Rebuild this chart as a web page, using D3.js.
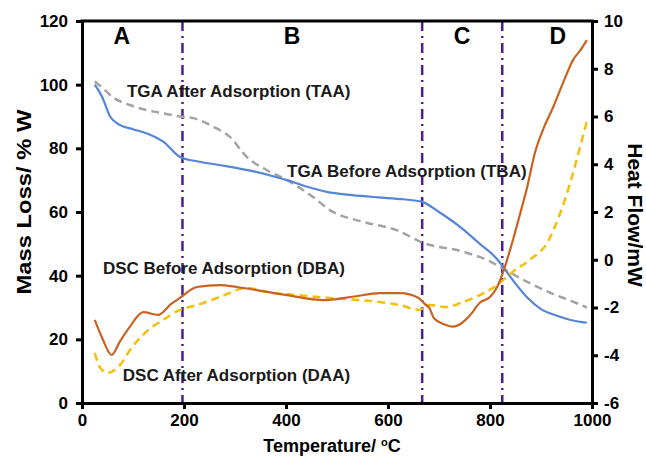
<!DOCTYPE html>
<html>
<head>
<meta charset="utf-8">
<script src="https://cdn.jsdelivr.net/npm/d3@7"></script>
<style>
  body { margin: 0; background: #fff; }
  text { font-family: "Liberation Sans", Arial, sans-serif; font-weight: bold; }
</style>
</head>
<body>
<svg width="646" height="463"></svg>
<script>
// TGA before adsorption (TBA), left axis
const tbaTemp = [25, 40, 55, 75, 100, 130, 160, 192, 230, 280, 330, 380, 402, 440, 480, 530, 580, 630, 667, 700, 740, 780, 815, 830, 850, 875, 900, 930, 960, 990];
const tbaMass = [100, 96, 90, 87.3, 86, 84.5, 82, 77.3, 75.8, 74.5, 73, 71, 70, 68, 66.3, 65.3, 64.6, 64, 63.2, 60, 55.5, 50, 45, 41.8, 37.5, 32.8, 29.5, 27.5, 26, 25.2];

// TGA after adsorption (TAA), left axis
const taaTemp = [25, 40, 61, 94, 127, 160, 192, 218, 257, 290, 323, 362, 402, 453, 486, 551, 617, 669, 748, 800, 830, 870, 920, 960, 990];
const taaMass = [101, 99, 96, 93.6, 92, 91, 90, 89.5, 86.8, 83.6, 77.3, 73.2, 70, 64.7, 60.6, 56.9, 54.3, 50.3, 47.5, 44.5, 41.8, 38.3, 34.5, 32, 30];

// DSC before adsorption (DBA), right axis
const dbaTemp = [25, 40, 58, 75, 94, 120, 149, 175, 192, 225, 270, 304, 343, 402, 473, 530, 584, 624, 660, 672, 682, 690, 710, 727, 745, 760, 780, 800, 814, 826, 845, 860, 873, 888, 905, 924, 945, 963, 978, 990];
const dbaHeat = [-2.52, -3.3, -3.99, -3.4, -2.8, -2.19, -2.31, -1.85, -1.6, -1.14, -1.06, -1.14, -1.27, -1.48, -1.69, -1.55, -1.4, -1.4, -1.6, -1.85, -2.05, -2.45, -2.7, -2.8, -2.65, -2.35, -1.8, -1.56, -1.14, -0.5, 0.83, 2.0, 3.05, 4.47, 5.5, 6.4, 7.5, 8.37, 8.8, 9.2];

// DSC after adsorption (DAA), right axis
const daaTemp = [25, 35, 49, 75, 94, 127, 159, 192, 225, 270, 323, 362, 421, 486, 584, 624, 660, 682, 715, 747, 780, 814, 845, 878, 912, 935, 957, 975, 990];
const daaHeat = [-3.9, -4.5, -4.74, -4.4, -3.78, -3.0, -2.52, -2.1, -1.9, -1.56, -1.18, -1.35, -1.48, -1.6, -1.77, -1.9, -2.1, -1.9, -1.98, -1.77, -1.48, -1.06, -0.5, 0.0, 0.7, 1.8, 3.2, 4.6, 5.8];

// region boundaries and labels
const regionBounds = [197, 667, 824];
const regionNames = ['A', 'B', 'C', 'D'];
const regionLabelTemp = [78, 412, 745, 933];

// curve annotations
const noteText = ['TGA After Adsorption (TAA)', 'TGA Before Adsorption (TBA)', 'DSC Before Adsorption (DBA)', 'DSC After Adsorption (DAA)'];
const noteTemp = [88, 402, 41, 80];
const noteMass = [97.4, 72.3, 41.8, 8.2];

const xTicks = [0, 200, 400, 600, 800, 1000];
const yLeftTicks = [0, 20, 40, 60, 80, 100, 120];
const yRightTicks = [-6, -4, -2, 0, 2, 4, 6, 8, 10];

const svg = d3.select("svg");
const plotLeft = 82, plotRight = 592, plotTop = 21, plotBottom = 403;

const x = d3.scaleLinear().domain([0, 1000]).range([plotLeft, plotRight]);
const yL = d3.scaleLinear().domain([0, 120]).range([plotBottom, plotTop]);
const yR = d3.scaleLinear().domain([-6, 10]).range([plotBottom, plotTop]);

// region lines
svg.selectAll(".region")
    .data(regionBounds)
    .enter()
    .append("line")
    .attr("x1", d => x(d))
    .attr("x2", d => x(d))
    .attr("y1", plotTop)
    .attr("y2", plotBottom)
    .style("stroke", "#4e1a9e")
    .style("stroke-width", 2.5)
    .style("stroke-dasharray", "10,5,2,5");

// series
function drawSeries(temps, vals, yScale, color, dash, width) {
    const pts = temps.map((t, i) => [t, vals[i]]);
    const line = d3.line()
        .x(d => x(d[0]))
        .y(d => yScale(d[1]))
        .curve(d3.curveMonotoneX);
    svg.append("path")
        .attr("d", line(pts))
        .style("fill", "none")
        .style("stroke", color)
        .style("stroke-width", width)
        .style("stroke-dasharray", dash);
}
drawSeries(taaTemp, taaMass, yL, "#a3a3a3", "8,5", 2.5);
drawSeries(tbaTemp, tbaMass, yL, "#5585d8", null, 2.2);
drawSeries(daaTemp, daaHeat, yR, "#f5bf0c", "8,5", 2.5);
drawSeries(dbaTemp, dbaHeat, yR, "#c9631f", null, 2.2);

// axes
const fmt = d => String(d);
const xAxis = svg.append("g")
    .attr("transform", "translate(0," + plotBottom + ")")
    .call(d3.axisBottom(x).tickValues(xTicks).tickSize(6).tickSizeOuter(0).tickPadding(5).tickFormat(fmt));
const lAxis = svg.append("g")
    .attr("transform", "translate(" + plotLeft + ",0)")
    .call(d3.axisLeft(yL).tickValues(yLeftTicks).tickSize(6).tickSizeOuter(0).tickPadding(8).tickFormat(fmt));
const rAxis = svg.append("g")
    .attr("transform", "translate(" + plotRight + ",0)")
    .call(d3.axisRight(yR).tickValues(yRightTicks).tickSize(6).tickSizeOuter(0).tickPadding(6).tickFormat(fmt));

[xAxis, lAxis, rAxis].forEach(g => {
    g.selectAll("path, line").style("stroke", "#000").style("stroke-width", 3);
    g.selectAll("text")
        .style("font-size", "17px")
        .style("font-family", "'Liberation Sans', Arial, sans-serif")
        .style("font-weight", "bold")
        .style("fill", "#000");
});

// top frame line
svg.append("line")
    .attr("x1", plotLeft - 1.5).attr("x2", plotRight + 1.5)
    .attr("y1", plotTop).attr("y2", plotTop)
    .style("stroke", "#000").style("stroke-width", 3);

// region letters
svg.selectAll(".rlabel")
    .data(regionNames)
    .enter()
    .append("text")
    .attr("x", (d, i) => x(regionLabelTemp[i]))
    .attr("y", 38)
    .attr("text-anchor", "middle")
    .attr("dominant-baseline", "middle")
    .style("font-size", "23px")
    .text(d => d);

// curve annotations
svg.selectAll(".note")
    .data(noteText)
    .enter()
    .append("text")
    .attr("x", (d, i) => x(noteTemp[i]))
    .attr("y", (d, i) => yL(noteMass[i]))
    .attr("dominant-baseline", "middle")
    .style("font-size", "17px")
    .style("fill", "#1a1a1a")
    .text(d => d);

// axis titles
svg.append("text")
    .attr("transform", "translate(31,202) rotate(-90)")
    .attr("text-anchor", "middle")
    .attr("textLength", 185)
    .attr("lengthAdjust", "spacingAndGlyphs")
    .style("font-size", "21px")
    .text("Mass Loss/ % W");

svg.append("text")
    .attr("transform", "translate(628,215) rotate(90)")
    .attr("text-anchor", "middle")
    .style("font-size", "21px")
    .text("Heat Flow/mW");

const xt = svg.append("text")
    .attr("x", 332)
    .attr("y", 452)
    .attr("text-anchor", "middle")
    .style("font-size", "18px");
xt.append("tspan").text("Temperature/ ");
xt.append("tspan").attr("dy", -6).style("font-size", "11px").text("o");
xt.append("tspan").attr("dy", 6).text("C");
</script>
</body>
</html>
